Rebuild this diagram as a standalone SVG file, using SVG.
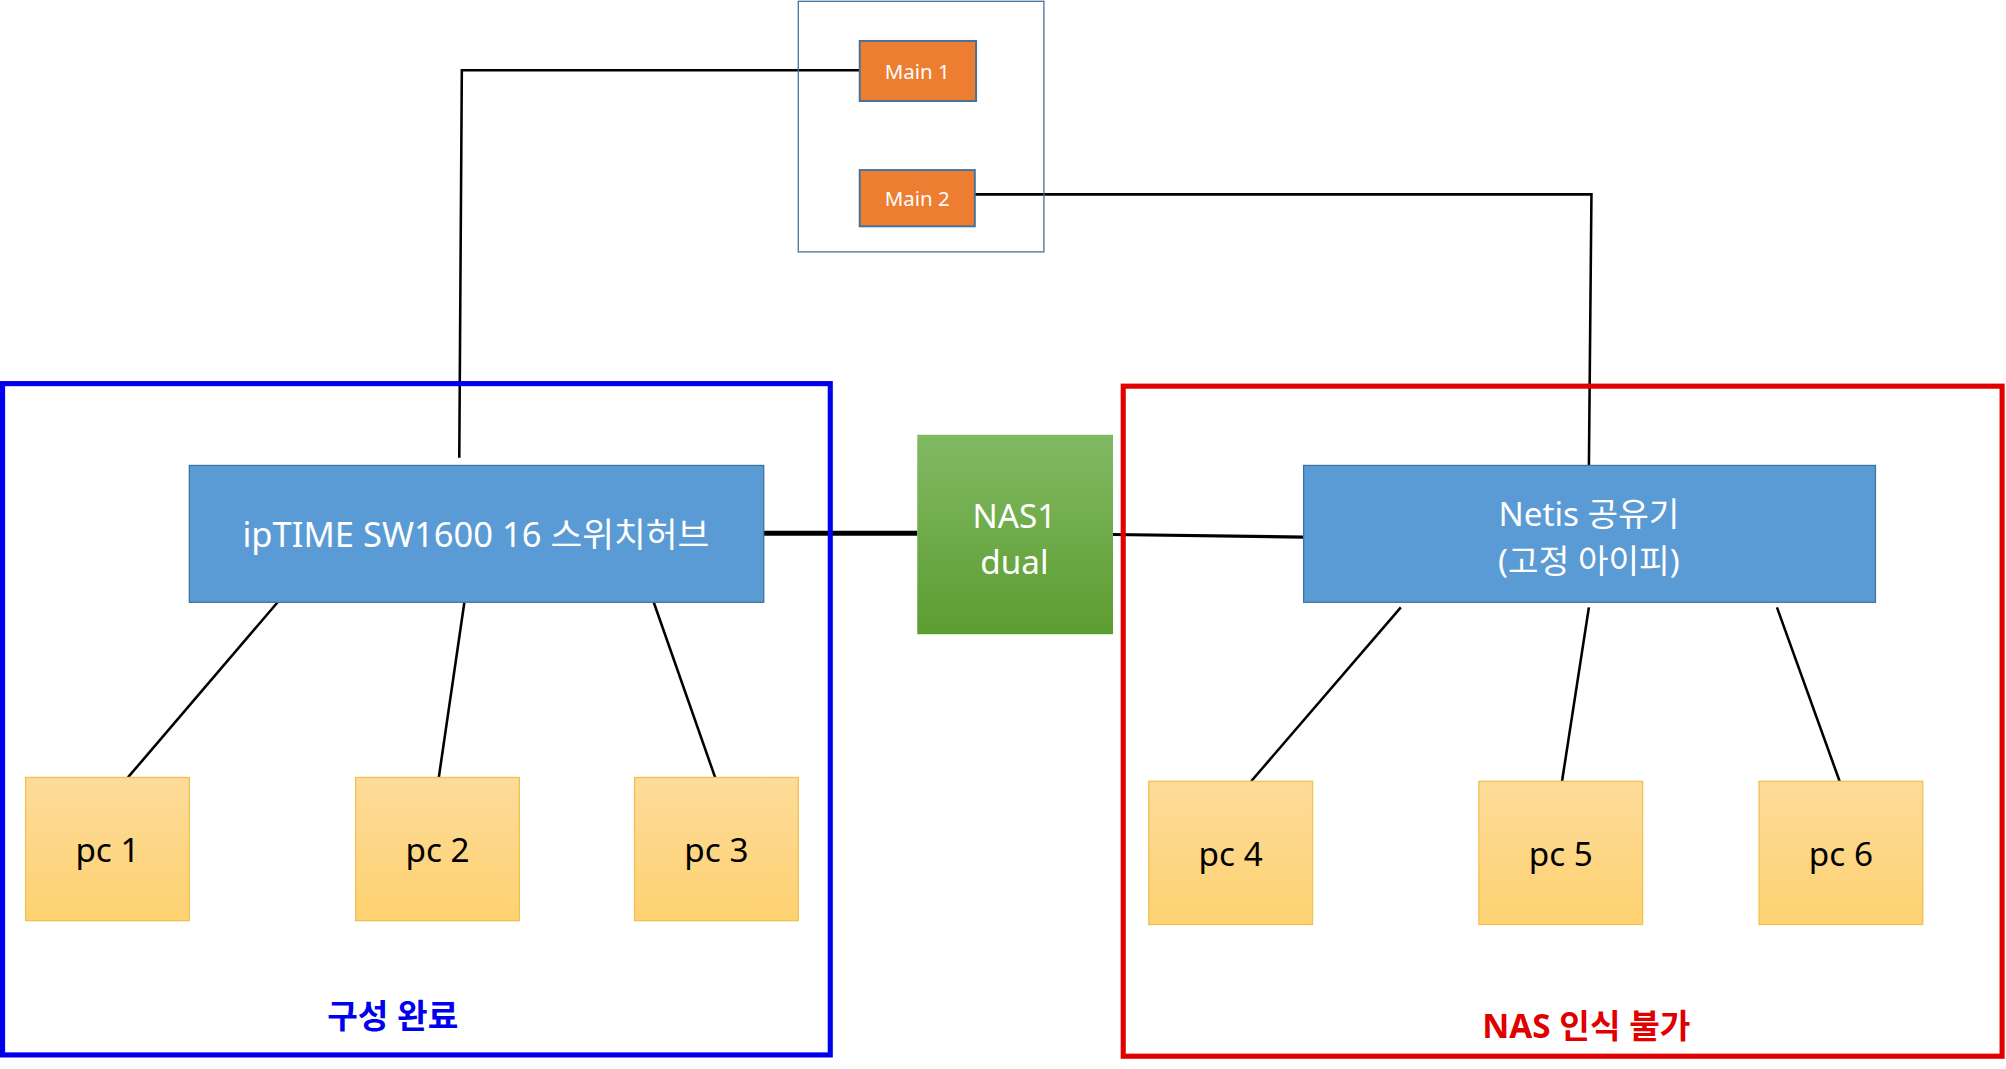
<svg xmlns="http://www.w3.org/2000/svg" width="2006" height="1069" viewBox="0 0 2006 1069">
<style>
text{font-family:"Noto Sans","Noto Sans CJK KR",sans-serif;text-anchor:middle}
.w{fill:#fff}
.pc{fill:url(#pcg);stroke:#f0c050;stroke-width:1}
.ln{stroke:#000;stroke-width:2;fill:none}
.blue{fill:#5B9BD5;stroke:#41719c;stroke-width:1}
.or{fill:#ED7D31;stroke:#41719c;stroke-width:1.5}
</style>
<defs>
<linearGradient id="pcg" x1="0" y1="0" x2="0" y2="1"><stop offset="0" stop-color="#fddb9a"/><stop offset="1" stop-color="#fed271"/></linearGradient>
<linearGradient id="ng" x1="0" y1="0" x2="0" y2="1"><stop offset="0" stop-color="#82b964"/><stop offset="1" stop-color="#5c9d30"/></linearGradient>
</defs>
<rect width="2006" height="1069" fill="#fff"/>
<g transform="scale(1.2793,1.2787)">
<g id="connectors">
<polyline class="ln" points="672,55 361,55 359,358"/>
<polyline class="ln" points="762,152 1244,152 1242,365"/>
<line x1="597" y1="417" x2="717" y2="417" stroke="#000" stroke-width="4"/>
<line x1="870" y1="418" x2="1019" y2="420" stroke="#000" stroke-width="2.5"/>
<line class="ln" x1="217" y1="471" x2="100" y2="608"/>
<line class="ln" x1="363" y1="471" x2="343" y2="608"/>
<line class="ln" x1="511" y1="471" x2="559" y2="608"/>
<line class="ln" x1="1095" y1="475" x2="978" y2="611"/>
<line class="ln" x1="1242" y1="475" x2="1221" y2="611"/>
<line class="ln" x1="1389" y1="475" x2="1438" y2="611"/>
</g>
<g id="mainbox"><rect x="624" y="1" width="192" height="196" fill="none" stroke="#41719c" stroke-width="1"/></g>
<g id="main1"><rect class="or" x="672" y="32" width="91" height="47"/><text class="w" x="717" y="62" font-size="16">Main 1</text></g>
<g id="main2"><rect class="or" x="672" y="133" width="90" height="44"/><text class="w" x="717" y="161" font-size="16">Main 2</text></g>
<g id="leftgroup"><rect x="2" y="300" width="647" height="525" fill="none" stroke="#0000ee" stroke-width="4"/><text x="307" y="804" font-size="26" font-weight="bold" fill="#0000ee">구성 완료</text></g>
<g id="rightgroup"><rect x="878" y="302" width="687" height="524" fill="none" stroke="#e00000" stroke-width="4"/><text x="1240" y="812" font-size="26" font-weight="bold" fill="#e00000">NAS 인식 불가</text></g>
<g id="switch"><rect class="blue" x="148" y="364" width="449" height="107"/><text class="w" x="372" y="428" font-size="27">ipTIME SW1600 16 스위치허브</text></g>
<g id="nas"><rect x="717" y="340" width="153" height="156" fill="url(#ng)"/><text class="w" x="793" y="413" font-size="26">NAS1</text><text class="w" x="793" y="449" font-size="26">dual</text></g>
<g id="netis"><rect class="blue" x="1019" y="364" width="447" height="107"/><text class="w" x="1242" y="411" font-size="26">Netis 공유기</text><text class="w" x="1242" y="448" font-size="26">(고정 아이피)</text></g>
<g id="pc1"><rect class="pc" x="20" y="608" width="128" height="112"/><text x="84" y="674" font-size="26">pc 1</text></g>
<g id="pc2"><rect class="pc" x="278" y="608" width="128" height="112"/><text x="342" y="674" font-size="26">pc 2</text></g>
<g id="pc3"><rect class="pc" x="496" y="608" width="128" height="112"/><text x="560" y="674" font-size="26">pc 3</text></g>
<g id="pc4"><rect class="pc" x="898" y="611" width="128" height="112"/><text x="962" y="677" font-size="26">pc 4</text></g>
<g id="pc5"><rect class="pc" x="1156" y="611" width="128" height="112"/><text x="1220" y="677" font-size="26">pc 5</text></g>
<g id="pc6"><rect class="pc" x="1375" y="611" width="128" height="112"/><text x="1439" y="677" font-size="26">pc 6</text></g>
</g>
</svg>
